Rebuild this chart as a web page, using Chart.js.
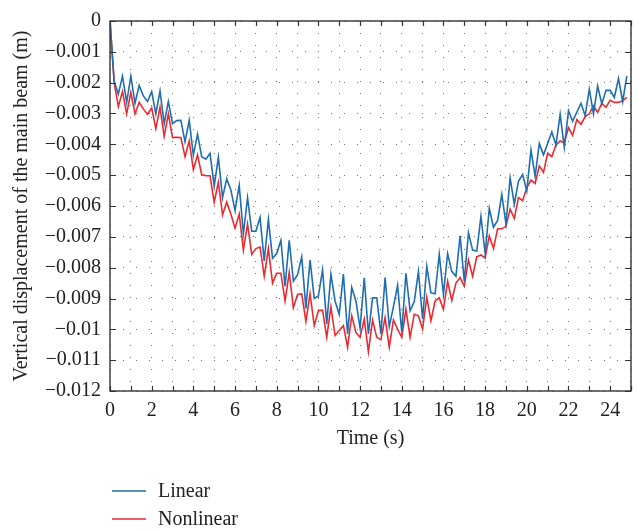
<!DOCTYPE html>
<html>
<head>
<meta charset="utf-8">
<script src="https://cdn.jsdelivr.net/npm/chart.js@4.4.0/dist/chart.umd.min.js"></script>
<style>
  html, body { margin: 0; padding: 0; background: #fff; }
  #wrap { width: 639px; height: 531px; position: relative; }
</style>
</head>
<body>
<div id="wrap"><canvas id="c"></canvas></div>
<script>
// Sampling interval of the time history (s)
const STEP = 0.2;

// Vertical displacement of the main beam (m), one value per time step
const linearDisp = [
  0, -0.00195, -0.00237, -0.00179, -0.00264, -0.00179, -0.00267, -0.00209, -0.00243, -0.00261,
  -0.00229, -0.00301, -0.00227, -0.00333, -0.00261, -0.00333, -0.00323, -0.00322, -0.00392, -0.00322,
  -0.00435, -0.00367, -0.00440, -0.00448, -0.00429, -0.00535, -0.00442, -0.00573, -0.00512, -0.00548,
  -0.00615, -0.00533, -0.00690, -0.00573, -0.00682, -0.00682, -0.00637, -0.00778, -0.00644, -0.00770,
  -0.00754, -0.00711, -0.00860, -0.00711, -0.00844, -0.00823, -0.00765, -0.00932, -0.00775, -0.00900,
  -0.00892, -0.00807, -0.00983, -0.00821, -0.00908, -0.00951, -0.00821, -0.01015, -0.00864, -0.00908,
  -0.00996, -0.00833, -0.01015, -0.00898, -0.00898, -0.01015, -0.00832, -0.00991, -0.00927, -0.00857,
  -0.01010, -0.00818, -0.00940, -0.00910, -0.00812, -0.00967, -0.00796, -0.00882, -0.00885, -0.00757,
  -0.00887, -0.00754, -0.00812, -0.00828, -0.00697, -0.00844, -0.00687, -0.00743, -0.00746, -0.00634,
  -0.00754, -0.00608, -0.00669, -0.00647, -0.00562, -0.00658, -0.00509, -0.00594, -0.00520, -0.00498,
  -0.00551, -0.00418, -0.00504, -0.00397, -0.00434, -0.00397, -0.00360, -0.00402, -0.00303, -0.00410,
  -0.00291, -0.00325, -0.00296, -0.00267, -0.00307, -0.00221, -0.00301, -0.00211, -0.00269, -0.00225,
  -0.00225, -0.00248, -0.00187, -0.00261, -0.00179
];

const nonlinearDisp = [
  0, -0.00200, -0.00278, -0.00229, -0.00301, -0.00232, -0.00301, -0.00264, -0.00285, -0.00303,
  -0.00282, -0.00349, -0.00280, -0.00374, -0.00301, -0.00378, -0.00377, -0.00378, -0.00440, -0.00389,
  -0.00482, -0.00434, -0.00498, -0.00502, -0.00502, -0.00587, -0.00523, -0.00629, -0.00587, -0.00626,
  -0.00672, -0.00626, -0.00743, -0.00658, -0.00757, -0.00738, -0.00733, -0.00828, -0.00738, -0.00850,
  -0.00818, -0.00818, -0.00908, -0.00815, -0.00930, -0.00887, -0.00885, -0.00974, -0.00885, -0.00988,
  -0.00940, -0.00938, -0.01026, -0.00927, -0.01020, -0.01004, -0.00988, -0.01058, -0.00956, -0.01010,
  -0.01026, -0.00967, -0.01073, -0.00970, -0.01026, -0.01034, -0.00962, -0.01058, -0.00970, -0.00999,
  -0.01026, -0.00935, -0.01026, -0.00951, -0.00956, -0.00999, -0.00896, -0.00972, -0.00908, -0.00898,
  -0.00935, -0.00844, -0.00906, -0.00850, -0.00832, -0.00860, -0.00775, -0.00828, -0.00765, -0.00759,
  -0.00768, -0.00697, -0.00738, -0.00674, -0.00674, -0.00666, -0.00610, -0.00640, -0.00573, -0.00583,
  -0.00541, -0.00516, -0.00527, -0.00470, -0.00491, -0.00429, -0.00440, -0.00402, -0.00389, -0.00395,
  -0.00346, -0.00371, -0.00320, -0.00335, -0.00310, -0.00301, -0.00275, -0.00296, -0.00267, -0.00280,
  -0.00257, -0.00264, -0.00264, -0.00259, -0.00248
];

const seriesNames = ['Linear', 'Nonlinear'];
const seriesColors = ['#1f6db3', '#ea2a2f'];
const xTitle = 'Time (s)';
const yTitle = 'Vertical displacement of the main beam (m)';

const FONT = '"Liberation Serif", "Times New Roman", serif';

const toPoints = arr => arr.map((v, i) => ({ x: +(i * STEP).toFixed(1), y: v }));

// Closed frame with inward tick marks on all four sides, plus a stacked legend
const frameTicks = {
  id: 'frameTicks',
  afterDraw(chart) {
    const { ctx, chartArea: a, scales: { x, y } } = chart;
    ctx.save();
    ctx.strokeStyle = '#333';
    ctx.lineWidth = 1.4;
    ctx.strokeRect(a.left, a.top, a.right - a.left, a.bottom - a.top);
    ctx.lineWidth = 1.2;
    ctx.beginPath();
    x.ticks.forEach(t => {
      const px = Math.round(x.getPixelForValue(t.value)) + 0.5;
      ctx.moveTo(px, a.bottom); ctx.lineTo(px, a.bottom - 5);
      ctx.moveTo(px, a.top); ctx.lineTo(px, a.top + 5);
    });
    y.ticks.forEach(t => {
      const py = Math.round(y.getPixelForValue(t.value)) + 0.5;
      ctx.moveTo(a.left, py); ctx.lineTo(a.left + 6, py);
      ctx.moveTo(a.right, py); ctx.lineTo(a.right - 6, py);
    });
    ctx.stroke();

    // legend
    ctx.font = '20px ' + FONT;
    ctx.textBaseline = 'middle';
    ctx.textAlign = 'left';
    const rows = [chart.height - 40, chart.height - 12];
    chart.data.datasets.forEach((ds, i) => {
      const ly = rows[i];
      ctx.strokeStyle = ds.borderColor;
      ctx.lineWidth = 1.5;
      ctx.beginPath();
      ctx.moveTo(a.left + 2, ly);
      ctx.lineTo(a.left + 36, ly);
      ctx.stroke();
      ctx.fillStyle = '#222';
      ctx.fillText(ds.label, a.left + 48, ly + 1);
    });
    ctx.restore();
  }
};

const gridStyle = {
  color: 'rgba(50,50,50,0.7)',
  lineWidth: 1,
  drawTicks: false
};

new Chart(document.getElementById('c'), {
  type: 'line',
  data: {
    datasets: [
      { label: seriesNames[0], data: toPoints(linearDisp), borderColor: seriesColors[0], borderWidth: 1.6, pointRadius: 0, tension: 0, fill: false },
      { label: seriesNames[1], data: toPoints(nonlinearDisp), borderColor: seriesColors[1], borderWidth: 1.6, pointRadius: 0, tension: 0, fill: false }
    ]
  },
  options: {
    responsive: true,
    maintainAspectRatio: false,
    animation: false,
    layout: { padding: { top: 16, right: 7, left: 0, bottom: 0 } },
    plugins: { legend: { display: false }, tooltip: { enabled: false } },
    scales: {
      x: {
        type: 'linear',
        min: 0, max: 25,
        afterFit: s => { s.height = 140; },
        border: { display: false, dash: [1, 11] },
        grid: gridStyle,
        ticks: {
          stepSize: 1, autoSkip: false, maxRotation: 0, padding: 8,
          color: '#222', font: { family: FONT, size: 20 },
          callback: v => (v % 2 === 0 && v <= 24) ? String(v) : ''
        },
        title: { display: true, text: xTitle, color: '#222', font: { family: FONT, size: 20 }, padding: { top: 0, bottom: 80 } }
      },
      y: {
        min: -0.012, max: 0,
        afterFit: s => { s.width = 110; },
        border: { display: false, dash: [1, 12] },
        grid: gridStyle,
        ticks: {
          stepSize: 0.001, autoSkip: false, padding: 9,
          color: '#222', font: { family: FONT, size: 20 },
          callback: v => {
            const r = Math.round(v * 1000) / 1000;
            return r === 0 ? '0' : '\u2212' + String(Math.abs(r));
          }
        },
        title: { display: true, text: yTitle, color: '#222', font: { family: FONT, size: 20 }, padding: { top: 10, bottom: 0 } }
      }
    }
  },
  plugins: [frameTicks]
});
</script>
</body>
</html>
